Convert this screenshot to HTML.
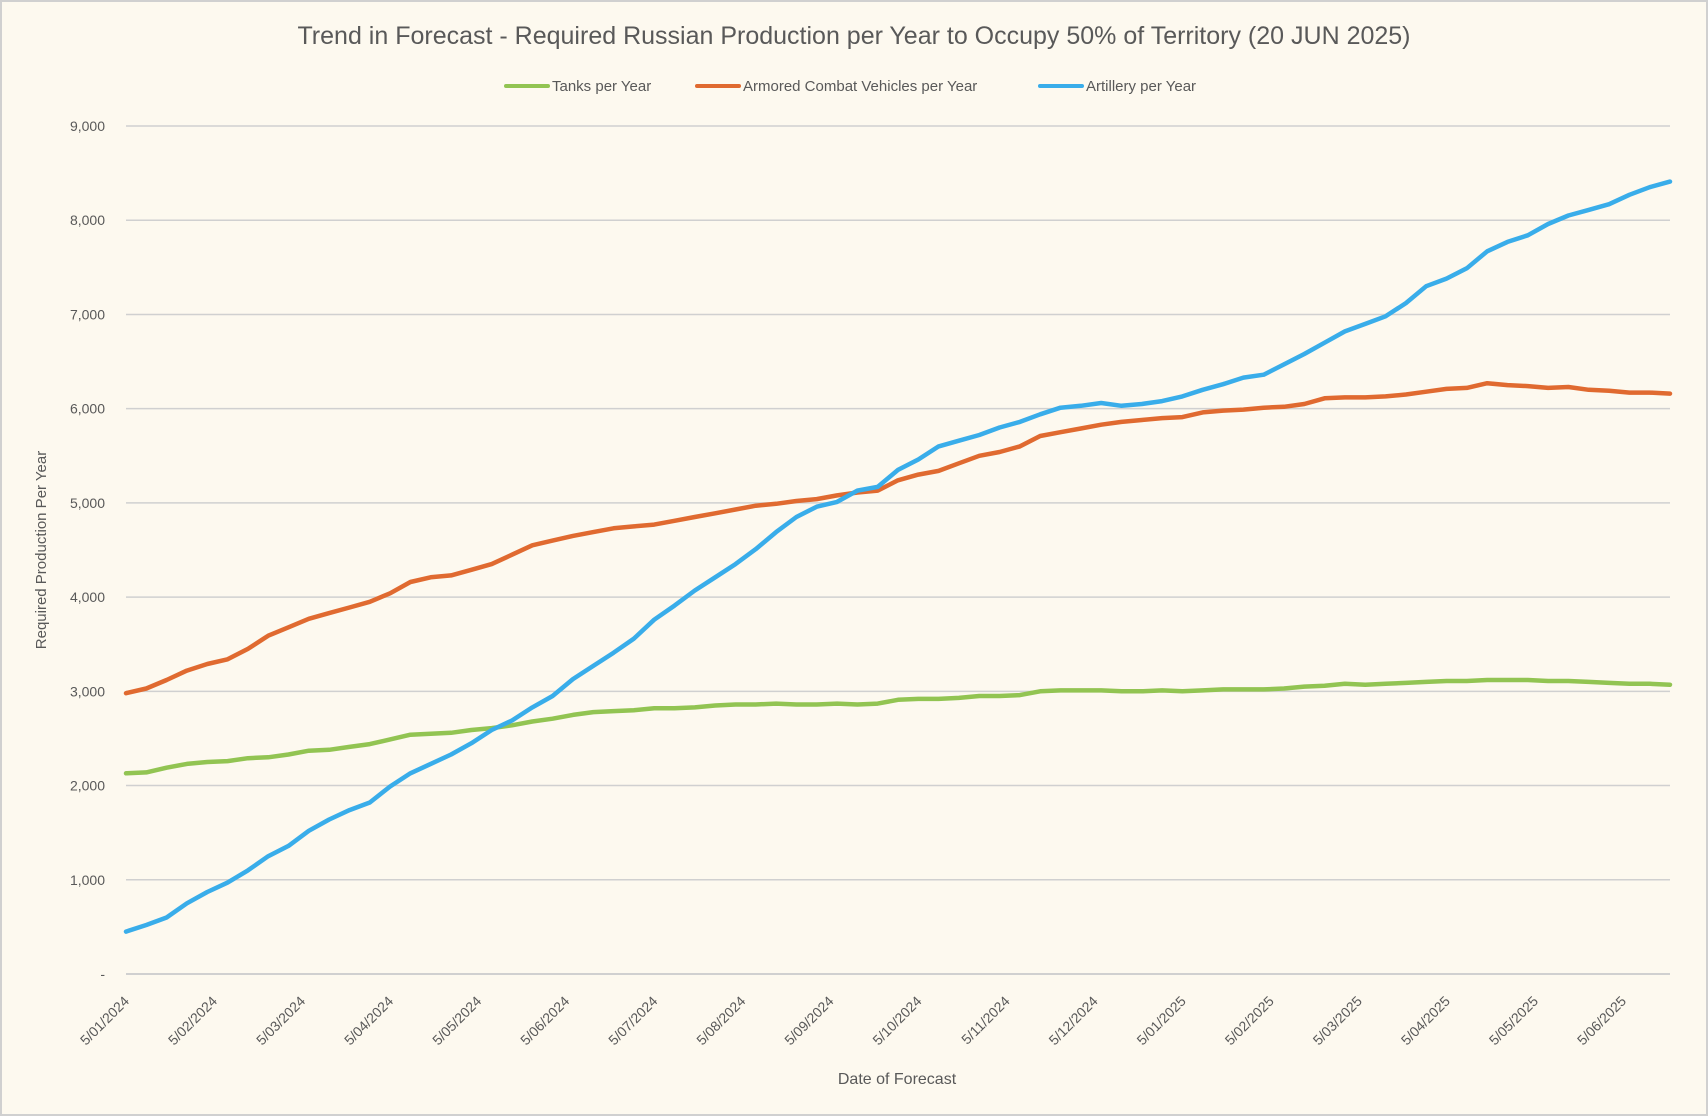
<!DOCTYPE html>
<html><head><meta charset="utf-8"><style>
html,body{margin:0;padding:0;background:#fdf9ef}
svg{display:block}
text{font-family:"Liberation Sans",sans-serif;fill:#595959}
</style></head><body>
<svg id="c" width="1708" height="1116" xmlns="http://www.w3.org/2000/svg">
<rect x="1" y="1" width="1706" height="1114" fill="#fdf9ef" stroke="#d0d0d0" stroke-width="2"/>
<text x="854" y="44" font-size="25" text-anchor="middle">Trend in Forecast - Required Russian Production per Year to Occupy 50% of Territory (20 JUN 2025)</text>
<line x1="506" y1="86" x2="548" y2="86" stroke="#92c452" stroke-width="4" stroke-linecap="round"/>
<text x="552" y="91" font-size="15">Tanks per Year</text>
<line x1="697" y1="86" x2="739" y2="86" stroke="#e06a30" stroke-width="4" stroke-linecap="round"/>
<text x="743" y="91" font-size="15">Armored Combat Vehicles per Year</text>
<line x1="1040" y1="86" x2="1082" y2="86" stroke="#39adea" stroke-width="4" stroke-linecap="round"/>
<text x="1086" y="91" font-size="15">Artillery per Year</text>
<g id="grid"></g>
<text transform="translate(46,550) rotate(-90)" font-size="15" text-anchor="middle">Required Production Per Year</text>
<text x="897" y="1084" font-size="16" text-anchor="middle">Date of Forecast</text>
<g id="xl"></g>
<g id="lines"></g>
</svg>
<script>
var ns="http://www.w3.org/2000/svg";
function el(t,a,p,txt){var e=document.createElementNS(ns,t);for(var k in a)e.setAttribute(k,a[k]);if(txt)e.textContent=txt;document.getElementById(p).appendChild(e);}
var X0=126,X1=1670,Y0=974,S=848/9000;
for(var v=0;v<=9000;v+=1000){var y=Y0-v*S;
el("line",{x1:X0,y1:y,x2:X1,y2:y,stroke:"#d0d0d0","stroke-width":v==0?2:1.5},"grid");
el("text",{x:105,y:y+5,"font-size":"14","text-anchor":"end"},"grid",v==0?"-":v.toLocaleString("en-US"));}
var labs=["5/01/2024","5/02/2024","5/03/2024","5/04/2024","5/05/2024","5/06/2024","5/07/2024","5/08/2024","5/09/2024","5/10/2024","5/11/2024","5/12/2024","5/01/2025","5/02/2025","5/03/2025","5/04/2025","5/05/2025","5/06/2025"];
labs.forEach(function(l,k){var x=130+k*88.06,y=1002;el("text",{transform:"translate("+x+","+y+") rotate(-45)","font-size":"14","text-anchor":"end"},"xl",l);});
var blue=[450,520,600,750,870,970,1100,1250,1360,1520,1640,1740,1820,1990,2130,2230,2330,2450,2590,2690,2830,2950,3130,3270,3410,3560,3760,3910,4070,4210,4350,4510,4690,4850,4960,5010,5130,5170,5350,5460,5600,5660,5720,5800,5860,5940,6010,6030,6060,6030,6050,6080,6130,6200,6260,6330,6360,6470,6580,6700,6820,6900,6980,7120,7300,7380,7490,7670,7770,7840,7960,8050,8110,8170,8270,8350,8410];
var orange=[2980,3030,3120,3220,3290,3340,3450,3590,3680,3770,3830,3890,3950,4040,4160,4210,4230,4290,4350,4450,4550,4600,4650,4690,4730,4750,4770,4810,4850,4890,4930,4970,4990,5020,5040,5080,5110,5130,5240,5300,5340,5420,5500,5540,5600,5710,5750,5790,5830,5860,5880,5900,5910,5960,5980,5990,6010,6020,6050,6110,6120,6120,6130,6150,6180,6210,6220,6270,6250,6240,6220,6230,6200,6190,6170,6170,6160];
var green=[2130,2140,2190,2230,2250,2260,2290,2300,2330,2370,2380,2410,2440,2490,2540,2550,2560,2590,2610,2640,2680,2710,2750,2780,2790,2800,2820,2820,2830,2850,2860,2860,2870,2860,2860,2870,2860,2870,2910,2920,2920,2930,2950,2950,2960,3000,3010,3010,3010,3000,3000,3010,3000,3010,3020,3020,3020,3030,3050,3060,3080,3070,3080,3090,3100,3110,3110,3120,3120,3120,3110,3110,3100,3090,3080,3080,3070];
[[green,"#92c452"],[orange,"#e06a30"],[blue,"#39adea"]].forEach(function(s){var d=s[0],n=d.length,p="";
d.forEach(function(v,i){p+=(i?"L":"M")+(X0+i*(X1-X0)/(n-1)).toFixed(1)+","+(Y0-v*S).toFixed(1);});
el("path",{d:p,fill:"none",stroke:s[1],"stroke-width":4.5,"stroke-linejoin":"round","stroke-linecap":"round"},"lines");});
</script>
</body></html>
